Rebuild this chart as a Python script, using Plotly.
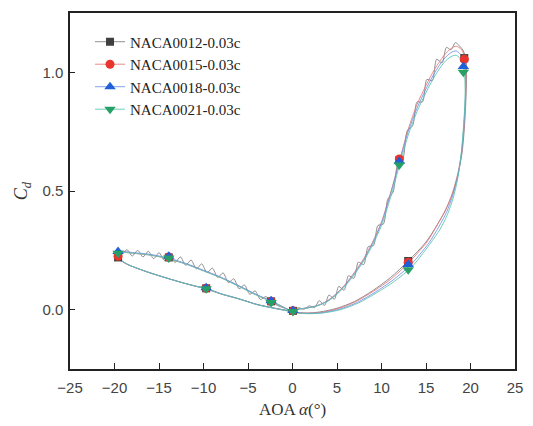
import plotly.graph_objects as go

# ---------------- data ----------------
# NACA0012 loop: +alpha upstroke (wavy), downstroke, -alpha upstroke (wavy), return
N12_AOA = [0.0, 0.7, 1.3, 1.9, 2.5, 3.0, 3.6, 4.1, 4.7, 5.2, 5.8, 6.3, 6.9, 7.4, 8.0, 8.5, 9.1, 9.6,
           10.2, 10.7, 11.3, 11.8, 12.4, 12.9, 13.5, 14.0, 14.6, 15.1, 15.7, 16.2, 16.8, 17.3, 17.8,
           18.3, 18.8, 19.2, 19.5,
           19.55, 19.48, 19.3, 19.05, 18.6, 18.0, 17.2, 16.3, 15.0, 13.0, 11.0, 9.0, 7.0, 5.0, 3.0, 1.5, 0.0,
           -0.6, -1.2, -1.8, -2.4, -3.0, -3.6, -4.2, -4.8, -5.4, -6.0, -6.6, -7.2, -7.8, -8.4, -9.0, -9.6,
           -10.2, -10.8, -11.4, -12.0, -12.6, -13.2, -13.8, -14.4, -15.0, -15.6, -16.2, -16.8, -17.4,
           -18.0, -18.6, -19.2, -19.6,
           -19.7, -19.2, -18.5, -17.5, -16.0, -14.3, -12.5, -11.0, -9.7, -8.0, -6.0, -5.0, -4.0, -2.0, -0.5, 0.0]
N12_CD = [0.0, 0.008, 0.002, 0.016, 0.009, 0.038, 0.018, 0.062, 0.044, 0.098, 0.082, 0.143, 0.132, 0.2,
          0.19, 0.265, 0.27, 0.355, 0.36, 0.465, 0.495, 0.61, 0.635, 0.755, 0.775, 0.875, 0.875, 0.97, 0.965,
          1.055, 1.04, 1.105, 1.095, 1.125, 1.11, 1.09, 1.05,
          1.0, 0.88, 0.76, 0.66, 0.57, 0.49, 0.42, 0.36, 0.285, 0.205, 0.135, 0.08, 0.035, 0.006, -0.01, -0.014, -0.008,
          0.004, 0.01, 0.02, 0.035, 0.055, 0.043, 0.079, 0.065, 0.104, 0.088, 0.13, 0.114, 0.155, 0.136,
          0.175, 0.156, 0.193, 0.172, 0.209, 0.187, 0.222, 0.199, 0.232, 0.208, 0.24, 0.215, 0.246, 0.222,
          0.25, 0.226, 0.253, 0.233, 0.24,
          0.222, 0.205, 0.19, 0.175, 0.155, 0.135, 0.115, 0.1, 0.088, 0.066, 0.045, 0.034, 0.022, 0.006, -0.004, -0.008]

N15_AOA = [0.0, 1.0, 2.0, 3.0, 4.0, 5.0, 6.0, 7.0, 8.0, 9.0, 10.0, 11.0, 12.0, 13.0, 14.0, 15.0, 16.0,
           17.0, 17.8, 18.4, 19.0, 19.4,
           19.5, 19.42, 19.25, 19.0, 18.55, 17.95, 17.2, 16.3, 15.1, 13.1, 11.1, 9.1, 7.1, 5.1, 3.1, 1.5, 0.0,
           -1.0, -2.4, -4.0, -6.0, -8.0, -10.0, -12.0, -14.0, -16.0, -18.0, -19.6,
           -19.7, -19.2, -18.5, -17.5, -16.0, -14.3, -12.5, -11.0, -9.7, -8.0, -6.0, -4.0, -2.0, -0.5, 0.0]
N15_CD = [0.0, 0.004, 0.01, 0.02, 0.04, 0.07, 0.11, 0.16, 0.215, 0.285, 0.37, 0.49, 0.625, 0.76, 0.865,
          0.945, 1.015, 1.07, 1.10, 1.11, 1.095, 1.055,
          0.98, 0.87, 0.76, 0.66, 0.57, 0.49, 0.42, 0.36, 0.285, 0.2, 0.13, 0.078, 0.034, 0.004, -0.012, -0.015, -0.009,
          0.01, 0.035, 0.062, 0.1, 0.135, 0.165, 0.193, 0.215, 0.23, 0.238, 0.243,
          0.225, 0.205, 0.19, 0.175, 0.155, 0.135, 0.115, 0.1, 0.088, 0.066, 0.045, 0.022, 0.006, -0.005, -0.009]

N18_AOA = [0.0, 1.0, 2.0, 3.0, 4.0, 5.0, 6.0, 7.0, 8.0, 9.0, 10.0, 11.0, 12.0, 13.0, 14.0, 15.0, 16.0,
           17.0, 17.8, 18.4, 19.0, 19.35,
           19.45, 19.38, 19.2, 18.95, 18.55, 18.0, 17.3, 16.45, 15.3, 13.3, 11.3, 9.3, 7.3, 5.3, 3.3, 1.6, 0.0,
           -1.0, -2.4, -4.0, -6.0, -8.0, -10.0, -12.0, -14.0, -16.0, -18.0, -19.6,
           -19.7, -19.2, -18.5, -17.5, -16.0, -14.3, -12.5, -11.0, -9.7, -8.0, -6.0, -4.0, -2.0, -0.5, 0.0]
N18_CD = [0.0, 0.004, 0.01, 0.02, 0.038, 0.068, 0.107, 0.155, 0.21, 0.28, 0.365, 0.485, 0.62, 0.75, 0.85,
          0.93, 1.0, 1.055, 1.083, 1.09, 1.07, 1.025,
          0.95, 0.86, 0.75, 0.65, 0.56, 0.48, 0.41, 0.35, 0.28, 0.19, 0.125, 0.074, 0.031, 0.002, -0.013, -0.016, -0.01,
          0.01, 0.037, 0.063, 0.1, 0.136, 0.166, 0.195, 0.218, 0.233, 0.241, 0.246,
          0.23, 0.207, 0.19, 0.175, 0.155, 0.135, 0.115, 0.1, 0.09, 0.067, 0.046, 0.022, 0.006, -0.005, -0.01]

N21_AOA = [0.0, 1.0, 2.0, 3.0, 4.0, 5.0, 6.0, 7.0, 8.0, 9.0, 10.0, 11.0, 12.0, 13.0, 14.0, 15.0, 16.0,
           17.0, 17.8, 18.4, 19.0, 19.3,
           19.4, 19.33, 19.15, 18.9, 18.55, 18.05, 17.4, 16.6, 15.4, 13.4, 11.4, 9.4, 7.4, 5.4, 3.4, 1.7, 0.0,
           -1.0, -2.4, -4.0, -6.0, -8.0, -10.0, -12.0, -14.0, -16.0, -18.0, -19.6,
           -19.7, -19.2, -18.5, -17.5, -16.0, -14.3, -12.5, -11.0, -9.7, -8.0, -6.0, -4.0, -2.0, -0.5, 0.0]
N21_CD = [0.0, 0.004, 0.009, 0.019, 0.036, 0.065, 0.103, 0.15, 0.205, 0.272, 0.355, 0.47, 0.605, 0.735,
          0.835, 0.915, 0.985, 1.04, 1.066, 1.072, 1.05, 1.0,
          0.92, 0.84, 0.74, 0.64, 0.55, 0.47, 0.4, 0.34, 0.275, 0.18, 0.118, 0.07, 0.028, 0.0, -0.014, -0.017, -0.011,
          0.01, 0.034, 0.06, 0.097, 0.133, 0.163, 0.192, 0.215, 0.23, 0.238, 0.24,
          0.232, 0.207, 0.19, 0.175, 0.155, 0.135, 0.115, 0.1, 0.087, 0.066, 0.045, 0.021, 0.005, -0.006, -0.011]

# marker points
MK_AOA_12 = [-19.6, -13.9, -9.7, -2.4, 0.05, 12.0, 13.0, 19.3]
MK_CD_12 = [0.22, 0.22, 0.09, 0.035, -0.005, 0.63, 0.205, 1.06]
MK_AOA_15 = [-19.6, -13.9, -9.7, -2.4, 0.05, 12.0, 13.0, 19.3]
MK_CD_15 = [0.225, 0.222, 0.09, 0.035, -0.005, 0.635, 0.20, 1.055]
MK_AOA_18 = [-19.6, -13.9, -9.7, -2.4, 0.05, 12.0, 13.0, 19.2]
MK_CD_18 = [0.245, 0.225, 0.092, 0.038, -0.003, 0.625, 0.19, 1.025]
MK_AOA_21 = [-19.6, -13.9, -9.7, -2.4, 0.05, 12.0, 13.0, 19.2]
MK_CD_21 = [0.238, 0.218, 0.088, 0.03, -0.008, 0.61, 0.168, 1.0]

NAMES = ["NACA0012-0.03c", "NACA0015-0.03c", "NACA0018-0.03c", "NACA0021-0.03c"]
X_TICKS = [-25, -20, -15, -10, -5, 0, 5, 10, 15, 20, 25]
Y_TICKS = [0.0, 0.5, 1.0]

# ---------------- figure ----------------
series = [
    (N12_AOA, N12_CD, MK_AOA_12, MK_CD_12, "rgba(125,125,125,0.85)", "#3f3f3f", "square", 8),
    (N15_AOA, N15_CD, MK_AOA_15, MK_CD_15, "rgba(228,120,120,0.85)", "#e8352d", "circle", 9),
    (N18_AOA, N18_CD, MK_AOA_18, MK_CD_18, "rgba(110,145,228,0.85)", "#1f5fd8", "triangle-up", 10),
    (N21_AOA, N21_CD, MK_AOA_21, MK_CD_21, "rgba(90,195,175,0.85)", "#27a065", "triangle-down", 10),
]

fig = go.Figure()
for name, (ax, ay, mx, my, lc, mc, sym, ms) in zip(NAMES, series):
    fig.add_trace(go.Scatter(x=ax, y=ay, mode="lines", showlegend=False,
                             line=dict(color=lc, width=1, shape="spline", smoothing=0.8),
                             hoverinfo="skip"))
for name, (ax, ay, mx, my, lc, mc, sym, ms) in zip(NAMES, series):
    fig.add_trace(go.Scatter(x=mx, y=my, mode="markers", showlegend=False,
                             marker=dict(symbol=sym, size=ms, color=mc, line=dict(width=0))))
for name, (ax, ay, mx, my, lc, mc, sym, ms) in zip(NAMES, series):
    fig.add_trace(go.Scatter(x=[None], y=[None], mode="lines+markers", name=name,
                             line=dict(color=lc, width=1),
                             marker=dict(symbol=sym, size=ms, color=mc, line=dict(width=0))))

axis_common = dict(showline=True, linecolor="#222", linewidth=1.5, mirror=True,
                   ticks="inside", tickcolor="#222", tickwidth=1.2,
                   showgrid=False, zeroline=False,
                   tickfont=dict(family="Liberation Sans, Arial", size=15, color="#444"))

fig.update_xaxes(range=[-25, 25], tickvals=X_TICKS, ticklen=6, ticklabelstandoff=4,
                 title=dict(text="AOA <i>α</i>(°)", font=dict(family="Liberation Serif", size=17, color="#333"),
                            standoff=8),
                 **axis_common)
fig.update_yaxes(range=[-0.25, 1.25], tickvals=Y_TICKS, ticktext=["0.0", "0.5", "1.0"], ticklen=5,
                 ticklabelstandoff=2,
                 title=dict(text="<i>C<sub>d</sub></i>", font=dict(family="Liberation Serif", size=18, color="#333"),
                            standoff=10),
                 **axis_common)

fig.update_layout(
    width=533, height=426,
    margin=dict(l=70, r=10, t=13, b=55),
    paper_bgcolor="white", plot_bgcolor="white",
    legend=dict(x=0.045, y=0.965, xanchor="left", yanchor="top",
                bgcolor="rgba(0,0,0,0)", borderwidth=0,
                font=dict(family="Liberation Serif", size=15, color="#222"),
                tracegroupgap=0),
)

fig.write_html("out.html")
